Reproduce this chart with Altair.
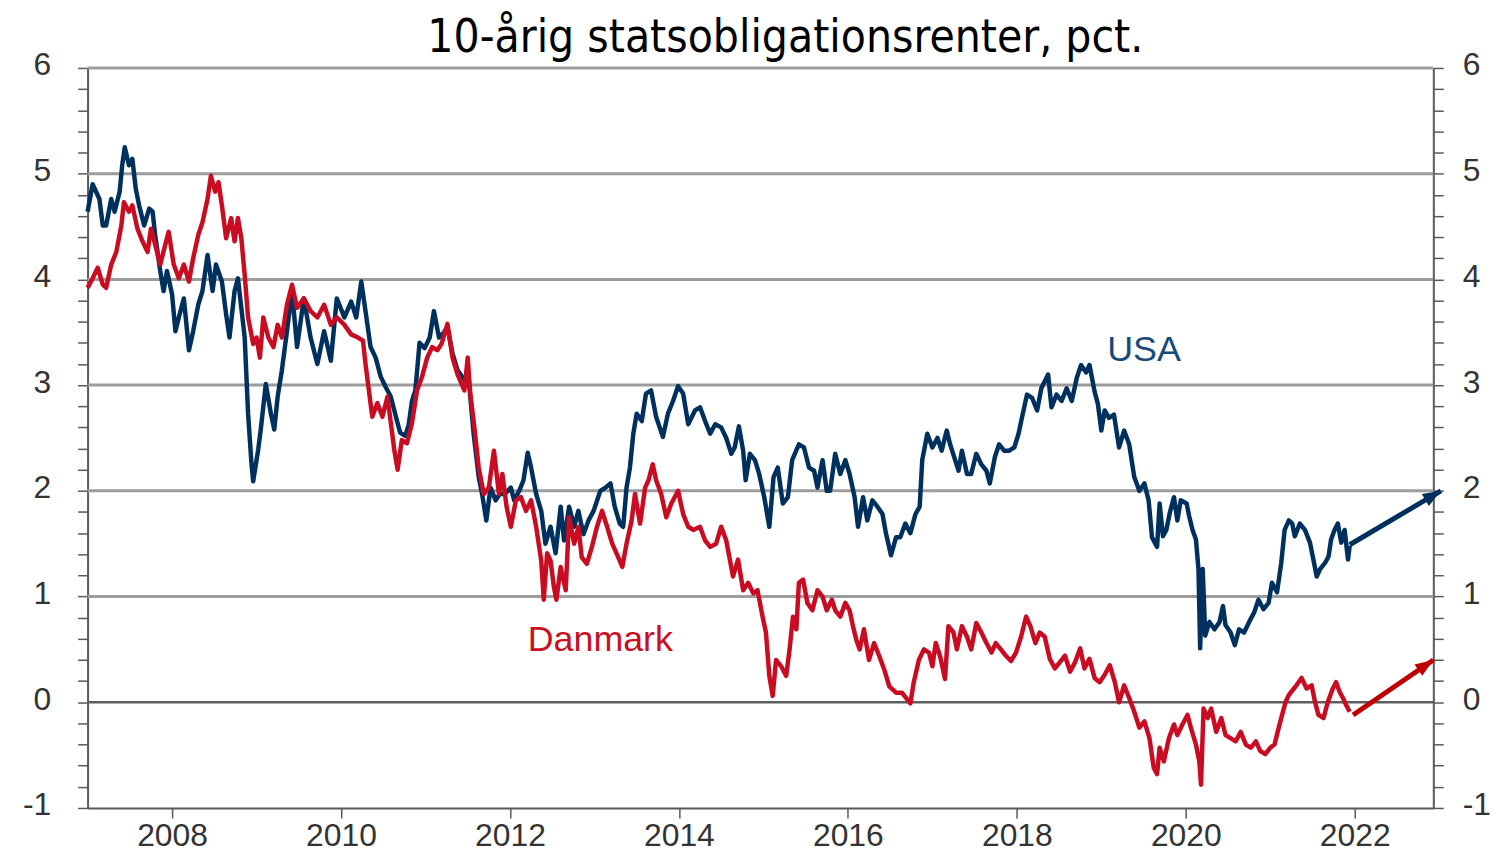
import math
import altair as alt
import pandas as pd

# ---------------- data ----------------
usa_year = [
    2007.00, 2007.06, 2007.14, 2007.18, 2007.22, 2007.28, 2007.32, 2007.38, 2007.41, 2007.44,
    2007.49, 2007.53, 2007.57, 2007.61, 2007.67, 2007.73, 2007.77, 2007.80, 2007.86, 2007.90,
    2007.94, 2008.00, 2008.04, 2008.08, 2008.14, 2008.20, 2008.25, 2008.31, 2008.36, 2008.42,
    2008.48, 2008.52, 2008.59, 2008.64, 2008.68, 2008.74, 2008.78, 2008.82, 2008.86, 2008.90,
    2008.94, 2008.96, 2009.02, 2009.05, 2009.11, 2009.17, 2009.21, 2009.25, 2009.30, 2009.36,
    2009.42, 2009.48, 2009.56, 2009.64, 2009.72, 2009.80, 2009.88, 2009.95, 2010.04, 2010.12,
    2010.18, 2010.24, 2010.29, 2010.35, 2010.41, 2010.47, 2010.53, 2010.59, 2010.65, 2010.70,
    2010.76, 2010.80, 2010.84, 2010.88, 2010.93, 2010.99, 2011.05, 2011.10, 2011.16, 2011.22,
    2011.26, 2011.32, 2011.38, 2011.46, 2011.51, 2011.57, 2011.63, 2011.67, 2011.72, 2011.77,
    2011.83, 2011.88, 2011.94, 2012.01, 2012.05, 2012.11, 2012.16, 2012.21, 2012.25, 2012.31,
    2012.37, 2012.42, 2012.48, 2012.54, 2012.60, 2012.64, 2012.70, 2012.76, 2012.81, 2012.87,
    2012.93, 2012.99, 2013.07, 2013.13, 2013.19, 2013.24, 2013.30, 2013.34, 2013.38, 2013.42,
    2013.46, 2013.50, 2013.56, 2013.61, 2013.67, 2013.73, 2013.81, 2013.87, 2013.93, 2013.99,
    2014.05, 2014.11, 2014.19, 2014.25, 2014.31, 2014.37, 2014.43, 2014.50, 2014.56, 2014.62,
    2014.66, 2014.71, 2014.76, 2014.79, 2014.84, 2014.90, 2014.95, 2015.01, 2015.07, 2015.12,
    2015.17, 2015.23, 2015.29, 2015.34, 2015.42, 2015.48, 2015.54, 2015.60, 2015.64, 2015.70,
    2015.75, 2015.79, 2015.85, 2015.91, 2015.97, 2016.02, 2016.08, 2016.12, 2016.18, 2016.23,
    2016.29, 2016.35, 2016.41, 2016.45, 2016.51, 2016.57, 2016.62, 2016.68, 2016.74, 2016.80,
    2016.85, 2016.88, 2016.94, 2017.00, 2017.06, 2017.11, 2017.17, 2017.21, 2017.27, 2017.31,
    2017.35, 2017.41, 2017.46, 2017.52, 2017.58, 2017.64, 2017.68, 2017.74, 2017.79, 2017.85,
    2017.91, 2017.97, 2018.02, 2018.06, 2018.12, 2018.18, 2018.24, 2018.29, 2018.37, 2018.41,
    2018.47, 2018.53, 2018.59, 2018.65, 2018.71, 2018.76, 2018.82, 2018.86, 2018.92, 2018.96,
    2019.00, 2019.04, 2019.09, 2019.15, 2019.21, 2019.27, 2019.33, 2019.39, 2019.45, 2019.51,
    2019.56, 2019.60, 2019.66, 2019.69, 2019.73, 2019.77, 2019.81, 2019.86, 2019.90, 2019.94,
    2020.01, 2020.04, 2020.08, 2020.12, 2020.15, 2020.17, 2020.20, 2020.23, 2020.28, 2020.34,
    2020.40, 2020.44, 2020.47, 2020.53, 2020.58, 2020.63, 2020.69, 2020.75, 2020.81, 2020.86,
    2020.92, 2020.98, 2021.02, 2021.08, 2021.13, 2021.17, 2021.22, 2021.26, 2021.29, 2021.35,
    2021.41, 2021.47, 2021.51, 2021.55, 2021.59, 2021.65, 2021.69, 2021.72, 2021.76, 2021.80,
    2021.84, 2021.88, 2021.92, 2021.94,
]
usa_value = [
    4.64, 4.90, 4.76, 4.51, 4.51, 4.76, 4.64, 4.83, 5.08, 5.25,
    5.08, 5.14, 4.86, 4.70, 4.51, 4.67, 4.64, 4.42, 4.08, 3.89,
    4.08, 3.86, 3.51, 3.64, 3.82, 3.33, 3.51, 3.76, 3.89, 4.23,
    3.89, 4.14, 3.98, 3.67, 3.45, 3.89, 4.01, 3.73, 3.45, 2.73,
    2.26, 2.09, 2.39, 2.58, 3.01, 2.73, 2.58, 2.89, 3.14, 3.51,
    3.89, 3.36, 3.82, 3.45, 3.20, 3.51, 3.23, 3.82, 3.64, 3.79,
    3.64, 3.98, 3.70, 3.36, 3.26, 3.08, 2.98, 2.89, 2.70, 2.55,
    2.52, 2.62, 2.85, 2.95, 3.40, 3.35, 3.45, 3.70, 3.45, 3.50,
    3.55, 3.30, 3.14, 3.05, 3.07, 2.54, 2.13, 1.97, 1.72, 2.03,
    1.91, 1.97, 1.97, 2.03, 1.91, 2.00, 2.10, 2.36, 2.22, 1.97,
    1.81, 1.50, 1.66, 1.41, 1.85, 1.53, 1.85, 1.66, 1.81, 1.59,
    1.72, 1.81, 2.00, 2.03, 2.07, 1.85, 1.69, 1.66, 2.03, 2.22,
    2.54, 2.73, 2.66, 2.92, 2.95, 2.70, 2.51, 2.73, 2.85, 2.99,
    2.92, 2.63, 2.76, 2.79, 2.66, 2.54, 2.63, 2.60, 2.50, 2.35,
    2.41, 2.61, 2.38, 2.10, 2.35, 2.29, 2.16, 1.94, 1.66, 2.13,
    2.22, 1.88, 1.94, 2.29, 2.44, 2.41, 2.22, 2.19, 2.03, 2.29,
    2.00, 2.00, 2.35, 2.16, 2.29, 2.16, 1.94, 1.66, 1.94, 1.72,
    1.91, 1.85, 1.78, 1.60, 1.39, 1.56, 1.56, 1.69, 1.60, 1.78,
    1.85, 2.29, 2.54, 2.41, 2.50, 2.38, 2.57, 2.44, 2.29, 2.19,
    2.38, 2.16, 2.16, 2.35, 2.25, 2.19, 2.07, 2.32, 2.44, 2.38,
    2.38, 2.41, 2.54, 2.69, 2.91, 2.88, 2.76, 2.97, 3.10, 2.79,
    2.91, 2.85, 2.97, 2.85, 3.07, 3.19, 3.12, 3.19, 2.94, 2.82,
    2.57, 2.76, 2.69, 2.72, 2.41, 2.57, 2.44, 2.13, 2.00, 2.07,
    1.91, 1.56, 1.47, 1.88, 1.57, 1.63, 1.79, 1.94, 1.72, 1.91,
    1.88, 1.76, 1.63, 1.54, 1.26, 0.51, 1.26, 0.63, 0.76, 0.69,
    0.76, 0.91, 0.73, 0.66, 0.54, 0.69, 0.66, 0.76, 0.85, 0.97,
    0.88, 0.94, 1.13, 1.04, 1.32, 1.63, 1.72, 1.69, 1.57, 1.69,
    1.63, 1.51, 1.35, 1.19, 1.26, 1.32, 1.38, 1.54, 1.63, 1.69,
    1.51, 1.63, 1.35, 1.48,
]

dk_year = [
    2007.00, 2007.06, 2007.12, 2007.18, 2007.22, 2007.28, 2007.34, 2007.40, 2007.43, 2007.49,
    2007.53, 2007.59, 2007.65, 2007.71, 2007.75, 2007.80, 2007.86, 2007.92, 2007.96, 2008.02,
    2008.08, 2008.14, 2008.20, 2008.25, 2008.31, 2008.36, 2008.42, 2008.46, 2008.51, 2008.55,
    2008.59, 2008.64, 2008.70, 2008.74, 2008.78, 2008.82, 2008.86, 2008.90, 2008.96, 2009.00,
    2009.04, 2009.08, 2009.14, 2009.20, 2009.25, 2009.30, 2009.36, 2009.42, 2009.48, 2009.56,
    2009.64, 2009.72, 2009.80, 2009.88, 2009.95, 2010.04, 2010.12, 2010.20, 2010.26, 2010.29,
    2010.33, 2010.37, 2010.43, 2010.49, 2010.55, 2010.59, 2010.63, 2010.67, 2010.72, 2010.78,
    2010.84, 2010.90, 2010.96, 2011.02, 2011.08, 2011.14, 2011.19, 2011.26, 2011.32, 2011.38,
    2011.46, 2011.50, 2011.53, 2011.57, 2011.63, 2011.69, 2011.75, 2011.81, 2011.87, 2011.91,
    2011.96, 2012.01, 2012.07, 2012.13, 2012.19, 2012.25, 2012.31, 2012.37, 2012.40, 2012.44,
    2012.48, 2012.52, 2012.55, 2012.60, 2012.66, 2012.70, 2012.76, 2012.81, 2012.85, 2012.91,
    2012.97, 2013.03, 2013.09, 2013.15, 2013.21, 2013.26, 2013.33, 2013.38, 2013.44, 2013.48,
    2013.54, 2013.60, 2013.64, 2013.69, 2013.73, 2013.79, 2013.85, 2013.91, 2013.99, 2014.05,
    2014.11, 2014.17, 2014.25, 2014.31, 2014.37, 2014.44, 2014.50, 2014.56, 2014.64, 2014.70,
    2014.76, 2014.82, 2014.88, 2014.93, 2014.99, 2015.03, 2015.07, 2015.11, 2015.15, 2015.21,
    2015.27, 2015.31, 2015.35, 2015.39, 2015.42, 2015.47, 2015.52, 2015.58, 2015.64, 2015.70,
    2015.75, 2015.81, 2015.85, 2015.91, 2015.97, 2016.02, 2016.06, 2016.10, 2016.14, 2016.19,
    2016.25, 2016.31, 2016.37, 2016.43, 2016.49, 2016.57, 2016.64, 2016.70, 2016.74, 2016.78,
    2016.84, 2016.90, 2016.96, 2017.00, 2017.04, 2017.09, 2017.15, 2017.19, 2017.25, 2017.29,
    2017.35, 2017.41, 2017.46, 2017.52, 2017.58, 2017.64, 2017.70, 2017.75, 2017.81, 2017.87,
    2017.93, 2017.99, 2018.05, 2018.11, 2018.16, 2018.22, 2018.27, 2018.33, 2018.39, 2018.45,
    2018.51, 2018.57, 2018.63, 2018.69, 2018.75, 2018.80, 2018.86, 2018.92, 2018.98, 2019.04,
    2019.10, 2019.16, 2019.21, 2019.27, 2019.33, 2019.39, 2019.45, 2019.51, 2019.57, 2019.62,
    2019.66, 2019.69, 2019.74, 2019.80, 2019.86, 2019.90, 2019.96, 2020.02, 2020.06, 2020.12,
    2020.16, 2020.18, 2020.21, 2020.26, 2020.30, 2020.36, 2020.42, 2020.47, 2020.53, 2020.59,
    2020.65, 2020.71, 2020.77, 2020.83, 2020.88, 2020.94, 2021.00, 2021.05, 2021.10, 2021.14,
    2021.18, 2021.22, 2021.28, 2021.31, 2021.37, 2021.43, 2021.49, 2021.53, 2021.57, 2021.63,
    2021.68, 2021.74, 2021.78, 2021.82, 2021.86, 2021.90, 2021.94,
]
dk_value = [
    3.92, 4.01, 4.11, 3.95, 3.92, 4.14, 4.26, 4.51, 4.73, 4.64,
    4.70, 4.48, 4.36, 4.26, 4.48, 4.33, 4.14, 4.33, 4.45, 4.14,
    4.01, 4.14, 3.98, 4.20, 4.42, 4.54, 4.76, 4.98, 4.83, 4.92,
    4.70, 4.39, 4.58, 4.36, 4.58, 4.39, 4.04, 3.64, 3.39, 3.45,
    3.26, 3.64, 3.45, 3.36, 3.57, 3.45, 3.76, 3.95, 3.73, 3.82,
    3.70, 3.64, 3.76, 3.57, 3.64, 3.57, 3.48, 3.45, 3.42, 3.20,
    2.95, 2.70, 2.83, 2.70, 2.89, 2.64, 2.39, 2.20, 2.48, 2.45,
    2.64, 2.95, 3.08, 3.26, 3.36, 3.33, 3.39, 3.58, 3.26, 3.10,
    2.95, 3.26, 2.92, 2.66, 2.22, 1.97, 2.03, 2.38, 1.97, 2.16,
    1.85, 1.66, 1.91, 1.94, 1.81, 1.91, 1.66, 1.34, 0.97, 1.41,
    1.34, 1.09, 0.97, 1.28, 1.06, 1.75, 1.50, 1.66, 1.37, 1.31,
    1.47, 1.66, 1.81, 1.66, 1.50, 1.41, 1.28, 1.50, 1.72, 1.97,
    1.69, 2.03, 2.10, 2.25, 2.10, 1.97, 1.75, 1.88, 2.00, 1.78,
    1.66, 1.63, 1.66, 1.53, 1.47, 1.50, 1.66, 1.53, 1.19, 1.35,
    1.06, 1.13, 1.03, 1.06, 0.81, 0.66, 0.25, 0.06, 0.40, 0.34,
    0.25, 0.50, 0.81, 0.69, 1.13, 1.16, 0.94, 0.87, 1.06, 1.00,
    0.87, 0.97, 0.87, 0.81, 0.94, 0.87, 0.72, 0.59, 0.50, 0.69,
    0.40, 0.56, 0.44, 0.31, 0.15, 0.09, 0.09, 0.03, -0.01, 0.19,
    0.40, 0.50, 0.47, 0.34, 0.56, 0.44, 0.22, 0.72, 0.66, 0.50,
    0.72, 0.62, 0.50, 0.75, 0.66, 0.56, 0.47, 0.56, 0.50, 0.44,
    0.39, 0.47, 0.62, 0.81, 0.72, 0.56, 0.66, 0.62, 0.41, 0.32,
    0.38, 0.44, 0.29, 0.38, 0.51, 0.32, 0.41, 0.23, 0.19, 0.26,
    0.35, 0.19, 0.00, 0.16, 0.04, -0.09, -0.24, -0.18, -0.34, -0.62,
    -0.68, -0.43, -0.56, -0.34, -0.21, -0.31, -0.21, -0.12, -0.24, -0.40,
    -0.56, -0.78, -0.06, -0.15, -0.06, -0.28, -0.15, -0.31, -0.34, -0.37,
    -0.28, -0.40, -0.43, -0.37, -0.46, -0.49, -0.43, -0.40, -0.24, -0.12,
    0.00, 0.07, 0.13, 0.16, 0.23, 0.13, 0.16, 0.00, -0.12, -0.15,
    0.00, 0.13, 0.19, 0.10, 0.04, -0.03, -0.09,
]

grid_levels = [1, 2, 3, 4, 5, 6]
zero_level = [0]
year_ticks = [2008, 2010, 2012, 2014, 2016, 2018, 2020, 2022]
value_ticks = [-1.0, -0.8, -0.6, -0.4, -0.2, 0.0, 0.2, 0.4, 0.6, 0.8,
               1.0, 1.2, 1.4, 1.6, 1.8, 2.0, 2.2, 2.4, 2.6, 2.8,
               3.0, 3.2, 3.4, 3.6, 3.8, 4.0, 4.2, 4.4, 4.6, 4.8,
               5.0, 5.2, 5.4, 5.6, 5.8, 6.0]

arrow_series = ["USA", "Danmark"]
arrow_x0 = [2021.94, 2021.98]
arrow_y0 = [1.49, -0.12]
arrow_x1 = [2023.02, 2022.93]
arrow_y1 = [2.00, 0.40]
arrow_color = ["#00315E", "#C00000"]

label_text = ["USA", "Danmark"]
label_year = [2019.07, 2012.21]
label_value = [3.33, 0.59]
label_color = ["#174A7C", "#C8101E"]

# ---------------- layout / style ----------------
W, H = 1353, 744
X_DOMAIN = [2007.0, 2022.93]
Y_DOMAIN = [-1, 6]
USA_COLOR = "#00315E"
DK_COLOR = "#C90C22"
AXIS_COLOR = "#595959"
LABEL_COLOR = "#333333"
FONT = "Liberation Sans, Arial, sans-serif"

xscale = alt.Scale(domain=X_DOMAIN, nice=False, zero=False)
yscale = alt.Scale(domain=Y_DOMAIN, nice=False, zero=False)

int_label = "abs(datum.value - round(datum.value)) < 0.01 ? '' + round(datum.value) : ''"

left_axis = alt.Axis(orient="left", values=value_ticks, labelExpr=int_label,
                     tickSize=10, tickColor=AXIS_COLOR, tickWidth=1.5,
                     domainColor=AXIS_COLOR, domainWidth=2, grid=False, title=None,
                     labelFont=FONT, labelFontSize=32, labelColor=LABEL_COLOR,
                     labelPadding=27, labelOverlap=False, labelFlush=False,
                     labelBaseline="middle", labelOffset=-3)
right_axis = alt.Axis(orient="right", values=value_ticks, labelExpr=int_label,
                      tickSize=10, tickColor=AXIS_COLOR, tickWidth=1.5,
                      domainColor=AXIS_COLOR, domainWidth=2, grid=False, title=None,
                      labelFont=FONT, labelFontSize=32, labelColor=LABEL_COLOR,
                      labelPadding=19, labelOverlap=False, labelFlush=False,
                      labelBaseline="middle", labelOffset=-3)


def x_axis():
    return alt.Axis(orient="bottom", values=year_ticks, format="d", tickSize=10,
                    tickColor=AXIS_COLOR, tickWidth=1.5, domainColor=AXIS_COLOR,
                    domainWidth=2, grid=False, title=None, labelFont=FONT,
                    labelFontSize=32, labelColor=LABEL_COLOR, labelPadding=3,
                    labelOverlap=False, labelFlush=False)


usa_df = pd.DataFrame({"year": usa_year, "value": usa_value})
dk_df = pd.DataFrame({"year": dk_year, "value": dk_value})
grid_df = pd.DataFrame({"level": grid_levels})
zero_df = pd.DataFrame({"level": zero_level})

px_per_year = W / (X_DOMAIN[1] - X_DOMAIN[0])
px_per_unit = H / (Y_DOMAIN[1] - Y_DOMAIN[0])
arrow_angle = [
    math.degrees(math.atan2((x1 - x0) * px_per_year, (y1 - y0) * px_per_unit))
    for x0, y0, x1, y1 in zip(arrow_x0, arrow_y0, arrow_x1, arrow_y1)
]
arrow_df = pd.DataFrame({"series": arrow_series, "x0": arrow_x0, "y0": arrow_y0,
                         "x1": arrow_x1, "y1": arrow_y1, "angle": arrow_angle,
                         "color": arrow_color})
label_df = pd.DataFrame({"text": label_text, "year": label_year,
                         "value": label_value, "color": label_color})

grid = alt.Chart(grid_df).mark_rule(color="#9C9C9C", strokeWidth=3).encode(
    y=alt.Y("level:Q", scale=yscale, axis=left_axis)
)
zero = alt.Chart(zero_df).mark_rule(color="#5E5E5E", strokeWidth=2.5).encode(
    y=alt.Y("level:Q", scale=yscale, axis=right_axis)
)
usa_line = alt.Chart(usa_df).mark_line(color=USA_COLOR, strokeWidth=4.5,
                                       strokeJoin="round").encode(
    x=alt.X("year:Q", scale=xscale, axis=x_axis()),
    y=alt.Y("value:Q", scale=yscale, axis=None),
)
dk_line = alt.Chart(dk_df).mark_line(color=DK_COLOR, strokeWidth=4.5,
                                     strokeJoin="round").encode(
    x=alt.X("year:Q", scale=xscale, axis=x_axis()),
    y=alt.Y("value:Q", scale=yscale, axis=None),
)
shafts = alt.Chart(arrow_df).mark_rule(strokeWidth=5, strokeCap="butt").encode(
    x=alt.X("x0:Q", scale=xscale, axis=x_axis()),
    x2="x1:Q",
    y=alt.Y("y0:Q", scale=yscale, axis=None),
    y2="y1:Q",
    color=alt.Color("color:N", scale=None, legend=None),
)
heads = alt.Chart(arrow_df).mark_point(
    shape="M0,0 L0.8,2.1 L-0.8,2.1 Z", filled=True, opacity=1, size=300,
    strokeWidth=0,
).encode(
    x=alt.X("x1:Q", scale=xscale, axis=x_axis()),
    y=alt.Y("y1:Q", scale=yscale, axis=None),
    angle=alt.Angle("angle:Q", scale=None),
    color=alt.Color("color:N", scale=None, legend=None),
)
labels = alt.Chart(label_df).mark_text(font=FONT, fontSize=36, align="left",
                                       baseline="middle").encode(
    x=alt.X("year:Q", scale=xscale, axis=x_axis()),
    y=alt.Y("value:Q", scale=yscale, axis=None),
    text="text:N",
    color=alt.Color("color:N", scale=None, legend=None),
)

chart = alt.layer(grid, zero, usa_line, dk_line, shafts, heads, labels).resolve_scale(
    y="independent"
).properties(
    width=W,
    height=H,
    autosize=alt.AutoSizeParams(type="none"),
    padding={"left": 80, "top": 58, "right": 60, "bottom": 44},
    title=alt.TitleParams(
        text="10-årig statsobligationsrenter, pct.",
        font="Liberation Sans Narrow, DejaVu Sans Condensed, sans-serif",
        fontSize=46, fontWeight="normal", color="#000000",
        anchor="middle", frame="group", dx=25, offset=-13,
    ),
).configure_view(strokeWidth=0).configure(background="#FFFFFF")

chart.save("out.html", embed_options={"renderer": "svg", "actions": False})
